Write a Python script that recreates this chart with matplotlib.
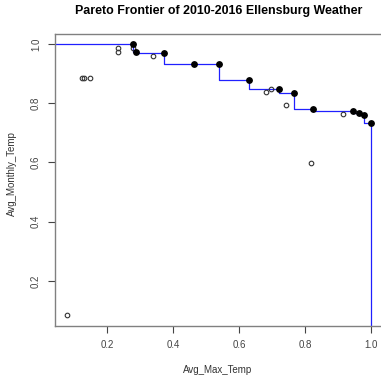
import matplotlib
matplotlib.use("Agg")
import matplotlib.pyplot as plt
import numpy as np

plt.rcParams['font.family'] = ['Liberation Sans', 'DejaVu Sans']

# Pareto frontier points (filled)
front_x = [0.280, 0.288, 0.373, 0.463, 0.538, 0.631, 0.721, 0.768, 0.825, 0.945, 0.963, 0.980, 1.000]
front_y = [0.998, 0.973, 0.969, 0.932, 0.932, 0.878, 0.847, 0.835, 0.780, 0.772, 0.766, 0.759, 0.732]

# Other (dominated) points (open circles)
other_x = [0.078, 0.125, 0.131, 0.149, 0.234, 0.234, 0.278, 0.338, 0.682, 0.697, 0.742, 0.820, 0.916]
other_y = [0.085, 0.886, 0.886, 0.886, 0.985, 0.971, 0.985, 0.960, 0.838, 0.847, 0.794, 0.599, 0.764]

xticks = [0.2, 0.4, 0.6, 0.8, 1.0]
yticks = [0.2, 0.4, 0.6, 0.8, 1.0]

fig = plt.figure(figsize=(3.81, 3.81), dpi=100)
W = H = 381.0
left, right, top, bottom = 55, 383, 33.5, 325.7
ax = fig.add_axes([left / W, 1 - bottom / H, (right - left) / W, (bottom - top) / H])

# step line (vertical first), extended to the plot edges
lx = [0.0] + front_x + [front_x[-1]]
ly = [front_y[0]] + front_y + [0.0]
ax.plot(lx, ly, drawstyle='steps-pre', color='#2020ff', lw=0.9, zorder=2)

ax.plot(other_x, other_y, 'o', mfc='none', mec='#333333', ms=3.3, mew=0.8, zorder=3)
ax.plot(front_x, front_y, 'o', color='black', ms=3.9, zorder=4)

ax.set_xlim(0.042, 1.037)
ax.set_ylim(0.049, 1.035)
ax.set_xticks(xticks)
ax.set_yticks(yticks)
ax.set_xticklabels([f"{v:.1f}" for v in xticks])
ax.set_yticklabels([f"{v:.1f}" for v in yticks], rotation=90, va='center')
ax.tick_params(direction='out', length=5, width=0.8, colors='#444444', labelsize=7, labelcolor='#444444')
ax.tick_params(axis='x', pad=5.5)
ax.tick_params(axis='y', pad=5)
for s in ax.spines.values():
    s.set_color('#808080')
    s.set_linewidth(1.0)

ax.set_xlabel('Avg_Max_Temp', fontsize=7, color='#333333')
ax.set_ylabel('Avg_Monthly_Temp', fontsize=7, color='#333333')
ax.xaxis.label.set_verticalalignment('center')
ax.yaxis.label.set_verticalalignment('center')
ax.xaxis.set_label_coords(0.496, -(370 - bottom) / (bottom - top))
ax.yaxis.set_label_coords((12 - left) / (right - left), (bottom - 174) / (bottom - top))

fig.text(218.5 / W, 1 - 11 / H, 'Pareto Frontier of 2010-2016 Ellensburg Weather',
         ha='center', va='center', fontsize=8.9, fontweight='bold')

fig.savefig('out.png', dpi=100)
